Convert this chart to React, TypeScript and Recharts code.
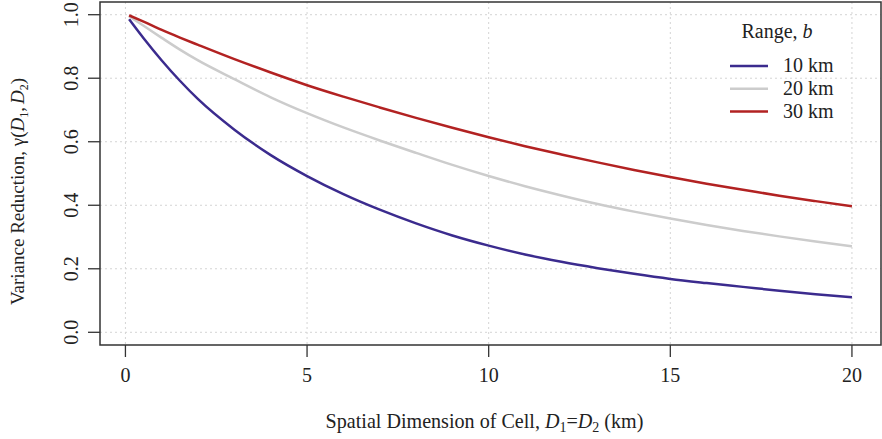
import {
  LineChart,
  Line,
  XAxis,
  YAxis,
  CartesianGrid,
  ReferenceArea,
  Legend,
} from "recharts";

// cell size D (km)
const cellSize = [0.1, 0.5, 1, 1.5, 2, 3, 4, 5, 6, 7, 8, 9, 10, 11, 12, 13, 14, 15, 16, 17, 18, 19, 20];

// variance reduction for each range b
const range10 = [0.986, 0.926, 0.856, 0.792, 0.734, 0.638, 0.558, 0.492, 0.435, 0.386, 0.343, 0.305, 0.273, 0.245, 0.222, 0.202, 0.184, 0.168, 0.155, 0.143, 0.131, 0.12, 0.11];
const range20 = [0.995, 0.965, 0.927, 0.89, 0.856, 0.797, 0.74, 0.69, 0.645, 0.604, 0.565, 0.527, 0.492, 0.46, 0.431, 0.404, 0.38, 0.358, 0.338, 0.319, 0.302, 0.286, 0.271];
const range30 = [0.998, 0.978, 0.952, 0.928, 0.905, 0.86, 0.818, 0.778, 0.742, 0.708, 0.675, 0.644, 0.614, 0.586, 0.56, 0.535, 0.511, 0.489, 0.468, 0.449, 0.43, 0.413, 0.397];

const xTicks = [0, 5, 10, 15, 20];
const yTicks = [0, 0.2, 0.4, 0.6, 0.8, 1.0];

const series = [
  { key: "r10", name: "10 km", color: "#3b2b8e" },
  { key: "r20", name: "20 km", color: "#cccccc" },
  { key: "r30", name: "30 km", color: "#b22222" },
];

const data = cellSize.map((d, i) => ({
  d,
  r10: range10[i],
  r20: range20[i],
  r30: range30[i],
}));

const FONT = "'Liberation Serif', 'DejaVu Serif', serif";
const INK = "#222";
const W = 882;
const H = 439;
const M = { top: 2, right: 1, bottom: 34, left: 40 };
const X_AXIS_H = 60;
const PLOT_MID_Y = (M.top + (H - M.bottom - X_AXIS_H)) / 2;

const XTick = (props: any) => {
  const { x, y, payload } = props;
  return (
    <text x={x} y={y + 25} textAnchor="middle" fontFamily={FONT} fontSize={20} fill={INK}>
      {payload.value}
    </text>
  );
};

const YTick = (props: any) => {
  const { x, y, payload } = props;
  const tx = x - 10;
  return (
    <text
      x={tx}
      y={y}
      transform={`rotate(-90, ${tx}, ${y})`}
      textAnchor="middle"
      fontFamily={FONT}
      fontSize={20}
      fill={INK}
    >
      {Number(payload.value).toFixed(1)}
    </text>
  );
};

// tspans with dy shift the anchored chunk, so nudge the titles back by hand
const YTitle = (props: any) => {
  const vb = props.viewBox;
  const tx = vb.x - 16;
  const ty = PLOT_MID_Y + 18;
  return (
    <text
      x={tx}
      y={ty}
      transform={`rotate(-90, ${tx}, ${ty})`}
      textAnchor="middle"
      fontFamily={FONT}
      fontSize={19}
      fill={INK}
    >
      Variance Reduction, γ(
      <tspan fontStyle="italic">D</tspan>
      <tspan dy={4} fontSize={12}>1</tspan>
      <tspan dy={-4}>,</tspan>
      <tspan dx={3} fontStyle="italic">D</tspan>
      <tspan dy={4} fontSize={12}>2</tspan>
      <tspan dy={-4}>)</tspan>
    </text>
  );
};

const XTitle = (props: any) => {
  const vb = props.viewBox;
  return (
    <text
      x={vb.x + vb.width / 2 - 6}
      y={vb.y + 83}
      textAnchor="middle"
      fontFamily={FONT}
      fontSize={20.1}
      fill={INK}
    >
      Spatial Dimension of Cell, <tspan fontStyle="italic">D</tspan>
      <tspan dy={4} fontSize={14}>1</tspan>
      <tspan dy={-4}>=</tspan>
      <tspan fontStyle="italic">D</tspan>
      <tspan dy={4} fontSize={14}>2</tspan>
      <tspan dy={-4}> (km)</tspan>
    </text>
  );
};

const RangeLegend = (props: any) => {
  const items = props.payload || [];
  return (
    <svg width={160} height={115} style={{ display: "block" }}>
      <text x={57} y={28} textAnchor="middle" fontFamily={FONT} fontSize={20} fill={INK}>
        Range, <tspan fontStyle="italic">b</tspan>
      </text>
      {items.map((it: any, i: number) => (
        <g key={it.value}>
          <line x1={10} x2={48} y1={56 + i * 22.8} y2={56 + i * 22.8} stroke={it.color} strokeWidth={2.5} />
          <text x={63} y={62 + i * 22.8} fontFamily={FONT} fontSize={20} fill={INK}>
            {it.value}
          </text>
        </g>
      ))}
    </svg>
  );
};

export default function App() {
  return (
    <div style={{ width: W, height: H, background: "#fff" }}>
      <style>{`body{margin:0}`}</style>
      <LineChart width={W} height={H} data={data} margin={M}>
        <CartesianGrid stroke="#d4d4d4" strokeDasharray="2 3" verticalValues={xTicks} horizontalValues={yTicks} />
        <XAxis
          dataKey="d"
          type="number"
          domain={[-0.7, 20.8]}
          ticks={xTicks}
          allowDataOverflow
          height={X_AXIS_H}
          axisLine={false}
          tickLine={{ stroke: "#333", strokeWidth: 1.3 }}
          tickSize={12}
          tickMargin={0}
          tick={<XTick />}
          label={<XTitle />}
        />
        <YAxis
          type="number"
          domain={[-0.04, 1.04]}
          ticks={yTicks}
          allowDataOverflow
          width={60}
          axisLine={false}
          tickLine={{ stroke: "#333", strokeWidth: 1.3 }}
          tickSize={12}
          tickMargin={0}
          tick={<YTick />}
          label={<YTitle />}
        />
        <ReferenceArea x1={-0.7} x2={20.8} y1={-0.04} y2={1.04} fill="none" stroke="#333" strokeWidth={1.5} />
        {series.map((s) => (
          <Line
            key={s.key}
            type="monotone"
            dataKey={s.key}
            name={s.name}
            stroke={s.color}
            strokeWidth={2.5}
            dot={false}
            activeDot={false}
            isAnimationActive={false}
          />
        ))}
        <Legend
          layout="vertical"
          align="center"
          verticalAlign="middle"
          content={<RangeLegend />}
          wrapperStyle={{ left: 720, top: 10, width: 160, height: 115 }}
        />
      </LineChart>
    </div>
  );
}
